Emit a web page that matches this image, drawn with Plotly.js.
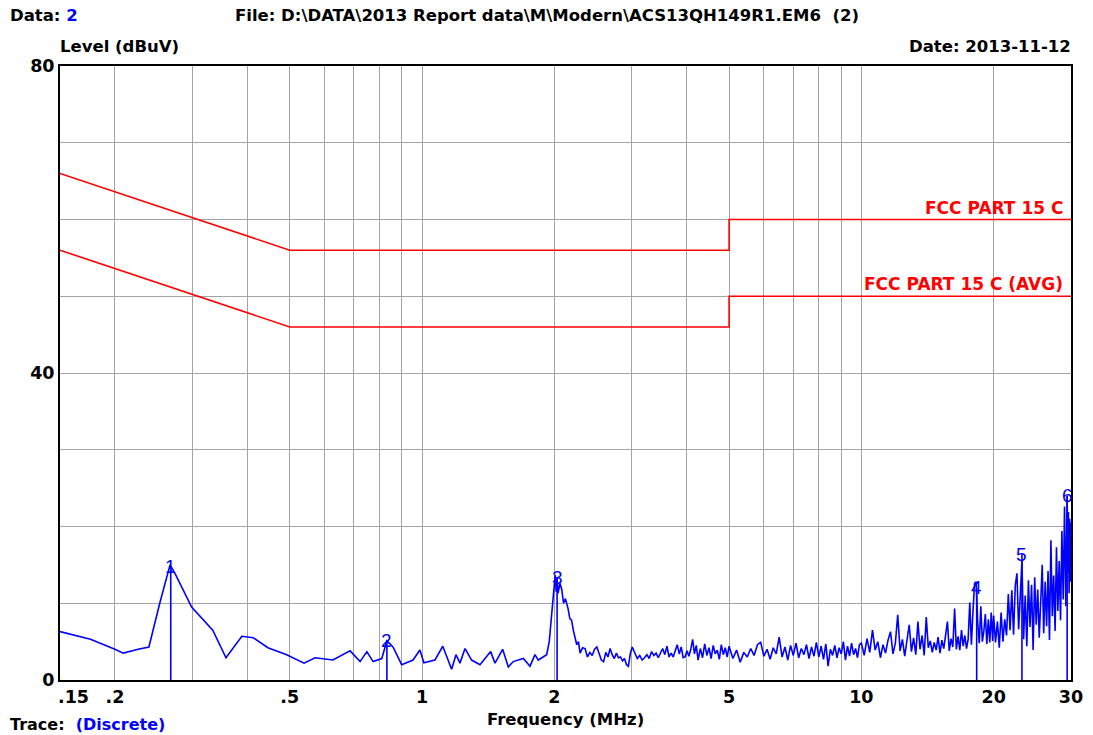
<!DOCTYPE html>
<html>
<head>
<meta charset="utf-8">
<script src="https://cdn.plot.ly/plotly-3.0.1.min.js"></script>
<style>
  html, body { margin: 0; padding: 0; background: #fff; }
  #chart { width: 1093px; height: 735px; }
</style>
</head>
<body>
<div id="chart"></div>
<script>
// ---------- limit lines (FCC Part 15 C, conducted) ----------
const limitFreq = [0.15, 0.5, 5, 5, 30];
const qpLimit   = [66, 56, 56, 60, 60];
const avgLimit  = [56, 46, 46, 50, 50];

// ---------- measured trace, 0.15 - 2 MHz ----------
const freqLow = [0.15, 0.176, 0.200, 0.209, 0.226, 0.239, 0.253, 0.267, 0.274, 0.299, 0.334, 0.358,
  0.389, 0.413, 0.446, 0.492, 0.539, 0.571, 0.627, 0.686, 0.723, 0.749, 0.774, 0.810, 0.832,
  0.859, 0.899, 0.954, 0.989, 1.010, 1.070, 1.115, 1.168, 1.195, 1.220, 1.253, 1.297, 1.355,
  1.433, 1.466, 1.526, 1.572, 1.613, 1.701, 1.761, 1.808, 1.839, 1.922, 1.948];
const levelLow = [6.3, 5.3, 4.0, 3.5, 4.0, 4.3, 10.0, 15.0, 13.9, 9.5, 6.5, 2.9,
  5.7, 5.5, 4.2, 3.3, 2.2, 2.9, 2.6, 3.8, 2.4, 3.7, 2.4, 2.8, 5.1,
  4.3, 2.0, 2.6, 3.9, 2.25, 2.6, 4.4, 1.4, 3.3, 2.2, 4.1, 2.6, 2.0,
  3.7, 2.2, 4.0, 1.7, 2.4, 2.8, 1.8, 3.3, 2.6, 3.3, 5.0];

// ---------- 2 - 5 MHz ----------
const freqMid = [1.98, 2.00, 2.01, 2.02, 2.03, 2.04, 2.06, 2.08, 2.10, 2.12, 2.15, 2.17, 2.19, 2.21,
  2.23, 2.25, 2.27, 2.29, 2.32, 2.35, 2.38, 2.41, 2.44, 2.47, 2.50, 2.53, 2.56, 2.59, 2.62,
  2.65, 2.68, 2.71, 2.74, 2.77, 2.80, 2.83, 2.86, 2.89, 2.92, 2.95, 2.98, 3.01, 3.05, 3.09,
  3.13, 3.17, 3.21, 3.25, 3.29, 3.33, 3.37, 3.41, 3.45, 3.49, 3.53, 3.57, 3.61, 3.65, 3.69,
  3.73, 3.77, 3.81, 3.85, 3.89, 3.93, 3.97, 4.01, 4.05, 4.09, 4.13, 4.17, 4.21, 4.25, 4.30,
  4.35, 4.40, 4.45, 4.50, 4.55, 4.60, 4.65, 4.70, 4.75, 4.80, 4.85, 4.90, 4.95];
const levelMid = [9.1, 12.0, 13.7, 11.5, 13.2, 11.3, 12.6, 11.8, 10.0, 10.6, 9.3, 8.0, 7.8, 6.5,
  5.6, 4.6, 5.0, 3.5, 4.2, 4.1, 3.0, 3.6, 3.2, 4.0, 4.3, 3.4, 2.6, 2.4, 3.6,
  3.0, 4.1, 3.3, 2.8, 3.5, 2.9, 3.0, 2.5, 2.8, 2.0, 1.8, 3.5, 4.3, 3.6, 2.8,
  3.2, 2.6, 2.9, 3.3, 2.8, 3.7, 3.2, 3.5, 2.9, 3.6, 4.1, 3.3, 4.4, 3.0, 3.5,
  3.0, 3.9, 4.6, 3.4, 4.3, 2.9, 3.0, 3.8, 3.1, 4.0, 5.3, 3.4, 4.5, 2.6, 4.1,
  2.9, 4.7, 3.2, 4.2, 2.8, 4.5, 3.4, 3.9, 2.7, 4.6, 3.3, 4.2, 3.0];

// ---------- 5 - 10 MHz ----------
const freqHigh = [5.0, 5.1, 5.2, 5.3, 5.4, 5.5, 5.6, 5.7, 5.8, 5.9, 6.0, 6.1, 6.2, 6.3, 6.4, 6.5,
  6.6, 6.7, 6.8, 6.9, 7.0, 7.1, 7.2, 7.3, 7.4, 7.5, 7.6, 7.7, 7.8, 7.9, 8.0, 8.1, 8.2, 8.3,
  8.4, 8.5, 8.6, 8.7, 8.8, 8.9, 9.0, 9.1, 9.2, 9.3, 9.4, 9.5, 9.6, 9.7, 9.8, 9.9];
const levelHigh = [4.4, 2.8, 3.9, 2.3, 3.6, 3.0, 4.1, 3.2, 4.6, 4.9, 3.1, 4.0, 2.7, 4.2, 3.4, 5.6,
  3.0, 4.3, 2.6, 4.5, 3.2, 4.8, 2.9, 4.1, 3.3, 4.6, 2.8, 4.3, 3.1, 4.9, 3.0, 4.4, 2.7, 4.7,
  1.8, 4.0, 3.2, 4.5, 2.9, 4.2, 3.4, 5.0, 2.6, 4.4, 3.1, 4.8, 3.3, 4.1, 2.9, 4.6];

// ---------- 10 - 20 MHz ----------
const freqTop = [10.0, 10.15, 10.3, 10.45, 10.6, 10.75, 10.9, 11.05, 11.2, 11.35, 11.5, 11.65, 11.8,
  11.95, 12.1, 12.25, 12.4, 12.55, 12.7, 12.85, 13.0, 13.15, 13.3, 13.45, 13.6, 13.75, 13.9,
  14.05, 14.2, 14.35, 14.5, 14.65, 14.8, 14.95, 15.1, 15.25, 15.4, 15.55, 15.7, 15.85, 16.0,
  16.15, 16.3, 16.45, 16.6, 16.75, 16.9, 17.05, 17.2, 17.35, 17.5, 17.65, 17.8, 17.95, 18.1,
  18.25, 18.4, 18.55, 18.7, 18.85, 19.0, 19.15, 19.3, 19.45, 19.6, 19.75, 19.9];
const levelTop = [4.8, 3.2, 5.4, 3.6, 6.5, 3.9, 5.0, 2.9, 4.6, 3.5, 5.2, 6.3, 3.4,
  4.8, 8.5, 3.8, 5.3, 3.1, 4.9, 7.2, 3.7, 5.5, 3.3, 7.6, 4.0, 5.8, 3.2,
  8.2, 4.2, 5.1, 3.6, 4.9, 3.9, 5.6, 3.5, 5.2, 4.1, 5.9, 7.6, 3.8, 5.4,
  4.3, 9.3, 4.0, 5.7, 3.9, 6.5, 4.4, 5.8, 4.1, 5.3, 10.1, 4.6, 9.0, 12.6,
  12.8, 7.5, 4.8, 9.6, 5.0, 6.4, 8.6, 4.7, 7.9, 4.9, 8.8, 5.1];

// ---------- 20 - 30 MHz ----------
const freqEnd = [20.0, 20.2, 20.4, 20.6, 20.8, 21.0, 21.2, 21.4, 21.6, 21.8, 22.0, 22.2, 22.4, 22.6,
  22.8, 23.0, 23.2, 23.4, 23.6, 23.8, 24.0, 24.2, 24.4, 24.6, 24.8, 25.0, 25.2, 25.4, 25.6,
  25.8, 26.0, 26.2, 26.4, 26.6, 26.8, 27.0, 27.2, 27.4, 27.6, 27.8, 28.0, 28.2, 28.4, 28.6,
  28.8, 29.0, 29.2, 29.4, 29.5, 29.6, 29.7, 29.8, 29.9, 30.0];
const levelEnd = [8.4, 4.9, 7.6, 4.2, 8.8, 5.0, 7.9, 5.8, 11.2, 6.5, 11.7, 5.9, 12.3, 13.9,
  6.6, 12.0, 15.5, 5.3, 11.0, 4.4, 13.0, 6.9, 12.4, 3.9, 13.4, 7.2, 11.8, 5.5, 10.6,
  15.0, 6.1, 12.8, 7.0, 14.2, 5.2, 18.2, 8.3, 13.6, 6.4, 17.3, 9.0, 15.5, 7.8, 19.4,
  10.5, 22.6, 9.6, 24.0, 14.0, 21.9, 11.3, 21.0, 12.8, 20.5];

// ---------- peak markers ----------
const markerFreq  = [0.268, 0.832, 2.03, 18.3, 23.2, 29.4];
const markerLevel = [14.8, 5.2, 13.4, 12.0, 16.4, 24.0];
const markerLabel = ['1', '2', '3', '4', '5', '6'];

// ---------- axes ----------
const xGrid = [0.2, 0.3, 0.4, 0.5, 0.6, 0.7, 0.8, 0.9, 1, 2, 3, 4, 5, 6, 7, 8, 9, 10, 20, 30];
const xGridText = ['.2', '', '', '.5', '', '', '', '', '1', '2', '', '', '5', '', '', '', '', '10', '20', '30'];
const yGrid = [0, 10, 20, 30, 40, 50, 60, 70, 80];
const yGridText = ['0', '', '', '', '40', '', '', '', '80'];

const freq = freqLow.concat(freqMid, freqHigh, freqTop, freqEnd);
const level = levelLow.concat(levelMid, levelHigh, levelTop, levelEnd);

const mx = [], my = [];
markerFreq.forEach((f, i) => { mx.push(f, f, null); my.push(markerLevel[i], 0, null); });

const FONT = 'DejaVu Sans, Liberation Sans, Arial, sans-serif';
const BLUE = '#0000ff', RED = '#ff0000';

const traces = [
  { x: limitFreq, y: qpLimit, mode: 'lines', line: { color: RED, width: 1.6 }, hoverinfo: 'skip' },
  { x: limitFreq, y: avgLimit, mode: 'lines', line: { color: RED, width: 1.6 }, hoverinfo: 'skip' },
  { x: freq, y: level, mode: 'lines', line: { color: BLUE, width: 1.6 }, hoverinfo: 'skip' },
  { x: mx, y: my, mode: 'lines', line: { color: BLUE, width: 1.6 }, hoverinfo: 'skip', connectgaps: false }
];

const plotTop = 66, plotBottom = 680, plotLeft = 60, plotRight = 1071;
const ph = plotBottom - plotTop, pw = plotRight - plotLeft;
const py = (px) => 1 + (plotTop - px) / ph;          // pixel row -> paper y
const pxx = (px) => (px - plotLeft) / pw;            // pixel col -> paper x

const bold = (size, color) => ({ family: FONT, size: size, color: color || '#000', weight: 'bold' });

const annotations = [
  { xref: 'paper', yref: 'paper', x: pxx(8), y: py(16), xanchor: 'left', yanchor: 'middle', showarrow: false,
    text: 'Data: <span style="color:#0000ff">2</span>', font: bold(16.5) },
  { xref: 'paper', yref: 'paper', x: pxx(233), y: py(16), xanchor: 'left', yanchor: 'middle', showarrow: false,
    text: 'File: D:\\DATA\\2013 Report data\\M\\Modern\\ACS13QH149R1.EM6  (2)', font: bold(16.5) },
  { xref: 'paper', yref: 'paper', x: pxx(58), y: py(47), xanchor: 'left', yanchor: 'middle', showarrow: false,
    text: 'Level (dBuV)', font: bold(16.5) },
  { xref: 'paper', yref: 'paper', x: pxx(1073), y: py(47), xanchor: 'right', yanchor: 'middle', showarrow: false,
    text: 'Date: 2013-11-12', font: bold(16.5) },
  { xref: 'paper', yref: 'paper', x: pxx(565), y: py(719), xanchor: 'center', yanchor: 'middle', showarrow: false,
    text: 'Frequency (MHz)', font: bold(16.5) },
  { xref: 'paper', yref: 'paper', x: pxx(8), y: py(724), xanchor: 'left', yanchor: 'middle', showarrow: false,
    text: 'Trace:  <span style="color:#0000ff">(Discrete)</span>', font: bold(16) },
  { xref: 'x', yref: 'paper', x: Math.log10(0.15), y: py(697), xanchor: 'left', yanchor: 'middle', xshift: -4, showarrow: false,
    text: '.15', font: bold(17.5) },
  { xref: 'paper', yref: 'y', x: pxx(1065), y: qpLimit[qpLimit.length - 1], xanchor: 'right', yanchor: 'bottom', showarrow: false,
    text: 'FCC PART 15 C', font: bold(17, RED) },
  { xref: 'paper', yref: 'y', x: pxx(1065), y: avgLimit[avgLimit.length - 1], xanchor: 'right', yanchor: 'bottom', showarrow: false,
    text: 'FCC PART 15 C (AVG)', font: bold(17, RED) }
];
markerFreq.forEach((f, i) => {
  annotations.push({ xref: 'x', yref: 'y', x: Math.log10(f), y: markerLevel[i], xanchor: 'center', yanchor: 'middle',
    showarrow: false, text: markerLabel[i], font: { family: 'Liberation Sans, Arial, sans-serif', size: 19, color: BLUE } });
});

const layout = {
  width: 1093, height: 735,
  margin: { l: plotLeft, r: 1093 - plotRight, t: plotTop, b: 735 - plotBottom, pad: 0 },
  paper_bgcolor: '#ffffff', plot_bgcolor: '#ffffff',
  showlegend: false,
  xaxis: {
    type: 'log', range: [Math.log10(0.15), Math.log10(30)],
    tickmode: 'array', tickvals: xGrid, ticktext: xGridText,
    showgrid: true, gridcolor: '#a4a4a4', gridwidth: 1,
    showline: true, mirror: true, linecolor: '#000000', linewidth: 2,
    ticks: '', zeroline: false, tickfont: bold(17.5), fixedrange: true
  },
  yaxis: {
    range: [0, 80], tickmode: 'array', tickvals: yGrid, ticktext: yGridText,
    showgrid: true, gridcolor: '#a4a4a4', gridwidth: 1,
    showline: true, mirror: true, linecolor: '#000000', linewidth: 2,
    ticks: '', zeroline: false, tickfont: bold(17.5), fixedrange: true
  },
  annotations: annotations
};

Plotly.newPlot('chart', traces, layout, { staticPlot: true, displayModeBar: false });
</script>
</body>
</html>
